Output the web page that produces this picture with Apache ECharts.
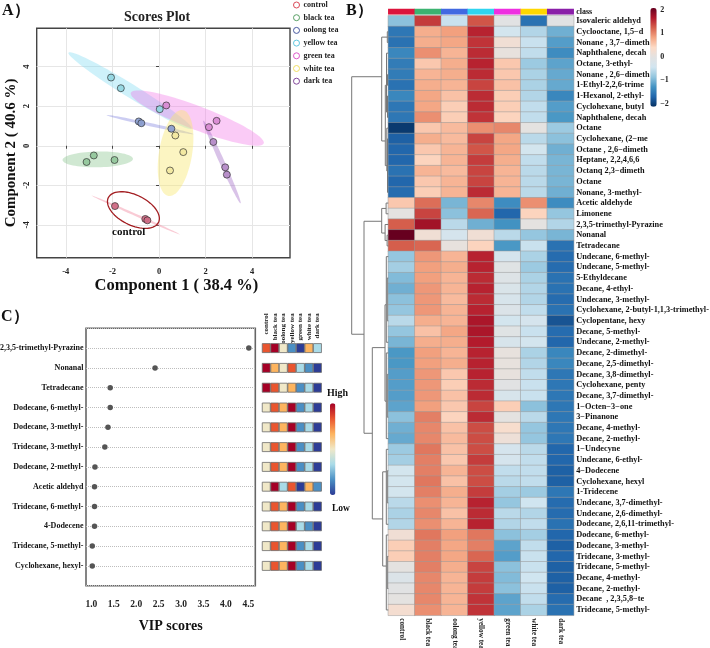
<!DOCTYPE html>
<html>
<head>
<meta charset="utf-8">
<title>Scores plot, heatmap and VIP scores</title>
<style>html,body{margin:0;padding:0;background:#fff}#chart{width:710px;height:648px}</style>
<script src="https://cdn.jsdelivr.net/npm/echarts@6/dist/echarts.min.js"></script>
</head>
<body>
<div id="chart"></div>
<script>
var serif = '"Liberation Serif", serif';

// groups, in legend order
var groups = ['control', 'black tea', 'oolong tea', 'yellow tea', 'green tea', 'white tea', 'dark tea'];
var groupLine = ['#d8404f', '#4f9a5c', '#3d4f9a', '#58c4de', '#dc4fc8', '#f0dc5a', '#7c3f96'];
var groupFill = ['#cf6a84', '#93c79c', '#8c9fd0', '#93d6e2', '#d88ad2', '#f2e8a0', '#b68cc8'];
var classColors = ['#dc143c', '#3cb371', '#4169e1', '#2fd4f0', '#ee2fe0', '#ffd700', '#8a1fa8'];

// panel A: component 1 / component 2 scores
var scores = [
  [[-1.89, -3.05], [-0.59, -3.70], [-0.50, -3.77]],
  [[-2.80, -0.49], [-3.11, -0.82], [-1.91, -0.72]],
  [[-0.87, 1.23], [-0.76, 1.14], [0.53, 0.86]],
  [[-2.06, 3.45], [-1.64, 2.91], [0.03, 1.85]],
  [[0.31, 2.04], [2.47, 1.26], [2.14, 0.94]],
  [[0.70, 0.52], [1.04, -0.32], [0.47, -1.25]],
  [[2.33, 0.19], [2.84, -1.09], [2.91, -1.46]]
];
// confidence ellipses: centre x, y, semi-major vector, semi-minor vector (data units)
var ellipses = [
  [-1.00, -3.50, 1.89, -0.98, 0.02, 0.054],
  [-2.63, -0.69, 1.51, 0.03, 0, 0.40],
  [-0.39, 1.07, 1.86, -0.48, 0.015, 0.08],
  [-1.24, 2.79, 2.64, -1.92, 0.15, 0.29],
  [1.64, 1.40, 2.85, -1.28, 0.18, 0.56],
  [0.71, -0.37, 0.31, 2.17, 0.70, -0.14],
  [2.70, -0.82, 0.80, -2.09, 0.10, 0.055]
];
var ellipseFill = ['rgba(240,130,155,.42)', 'rgba(120,190,125,.35)', 'rgba(95,100,215,.32)', 'rgba(120,215,240,.36)',
  'rgba(240,110,230,.36)', 'rgba(248,232,110,.42)', 'rgba(150,90,190,.36)'];
var controlRing = [[-1.10, -3.25, 1.07, -0.64, 0.31, 0.67]];
var axisTicksA = [-4, -2, 0, 2, 4];

// panel B: heatmap
var heatSamples = ['control', 'black tea', 'oolong tea', 'yellow tea', 'green tea', 'white tea', 'dark tea'];
var heatCompounds = ['Isovaleric aldehyd', 'Cyclooctane, 1,5−d', 'Nonane , 3,7−dimeth', 'Naphthalene, decah', 'Octane, 3-ethyl-',
  'Nonane , 2,6−dimeth', '1-Ethyl-2,2,6-trime', '1-Hexanol, 2-ethyl-', 'Cyclohexane, butyl', 'Naphthalene, decah',
  'Octane', 'Cyclohexane, (2−me', 'Octane , 2,6−dimeth', 'Heptane, 2,2,4,6,6', 'Octanq 2,3−dimeth', 'Octane',
  'Nonane, 3-methyl-', 'Acetic aldehyde', 'Limonene', '2,3,5-trimethyl-Pyrazine', 'Nonanal', 'Tetradecane',
  'Undecane, 6-methyl-', 'Undecane, 5-methyl-', '5-Ethyldecane', 'Decane, 4-ethyl-', 'Undecane, 3-methyl-',
  'Cyclohexane, 2-butyl-1,1,3-trimethyl-', 'Cyclopentane, hexy', 'Decane, 5-methyl-', 'Undecane, 2-methyl-',
  'Decane, 2-dimethyl-', 'Decane, 2,5-dimethyl-', 'Decane, 3,8-dimethyl-', 'Cyclohexane, penty', 'Decane, 3,7-dimethyl-',
  '1−Octen−3−one', '3−Pinanone', 'Decane, 4-methyl-', 'Decane, 2-methyl-', '1−Undecyne', 'Undecane, 6-ethyl-',
  '4−Dodecene', 'Cyclohexane, hexyl', '1-Tridecene', 'Undecane, 3,7-dimethyl-', 'Undecane, 2,6-dimethyl-',
  'Dodecane, 2,6,11-trimethyl-', 'Dodecane, 6-methyl-', 'Dodecane, 3-methyl-', 'Tridecane, 3-methyl-', 'Tridecane, 5-methyl-',
  'Decane, 4-methyl-', 'Decane, 2-methyl-', 'Decane  , 2,3,5,8−te', 'Tridecane, 5-methyl-'];
var heatValues = [
  [-0.9, 1.45, -0.5, 1.3, -0.05, -1.6, -0.05],
  [-1.55, 0.75, 0.85, 1.6, -0.4, -0.65, -1.05],
  [-1.6, 0.75, 0.8, 1.5, 0.2, -0.5, -1.2],
  [-1.4, 0.95, 0.7, 1.55, 0.05, -0.55, -1.35],
  [-1.5, 0.55, 0.75, 1.6, 0.55, -0.8, -1.15],
  [-1.5, 0.7, 0.75, 1.55, 0.55, -0.7, -1.1],
  [-1.6, 0.75, 0.7, 1.4, 0.6, -0.7, -1.1],
  [-1.4, 0.8, 0.6, 1.55, 0.5, -0.65, -1.4],
  [-1.55, 0.8, 0.5, 1.55, 0.5, -0.55, -1.2],
  [-1.55, 0.95, 0.5, 1.5, 0.45, -0.55, -1.25],
  [-2.05, 0.55, 0.65, 0.95, 1.0, 0.0, -0.8],
  [-1.75, 0.75, 0.65, 1.4, 0.8, -0.6, -0.9],
  [-1.7, 0.55, 0.7, 1.3, 0.8, -0.4, -1.05],
  [-1.7, 0.45, 0.7, 1.45, 0.75, -0.55, -1.0],
  [-1.6, 0.7, 0.65, 1.4, 0.7, -0.6, -1.0],
  [-1.7, 0.55, 0.7, 1.4, 0.7, -0.6, -1.0],
  [-1.65, 0.5, 0.7, 1.55, 0.7, -0.6, -1.05],
  [0.55, 1.15, -1.0, 1.0, -1.35, 0.95, -1.35],
  [0.0, 1.4, -0.9, 1.2, -1.7, 0.45, -0.85],
  [1.25, 1.75, -0.6, -1.05, -1.3, 0.0, -0.65],
  [2.08, 0.2, -0.35, 0.2, -0.6, -0.85, -1.0],
  [1.25, 1.2, 0.05, 0.45, -1.25, -0.5, -1.6],
  [-0.85, 0.9, 0.7, 1.6, -0.35, -0.7, -1.65],
  [-0.75, 0.85, 0.75, 1.6, -0.1, -0.8, -1.65],
  [-0.95, 0.85, 0.7, 1.55, -0.15, -0.7, -1.6],
  [-1.05, 0.9, 0.7, 1.6, -0.25, -0.65, -1.6],
  [-0.9, 0.9, 0.65, 1.55, -0.3, -0.65, -1.65],
  [-0.85, 0.9, 0.7, 1.6, -0.2, -0.55, -1.6],
  [-0.6, 0.75, 0.7, 1.7, -0.4, -0.35, -1.85],
  [-0.85, 0.6, 0.8, 1.7, -0.1, -0.5, -1.65],
  [-1.0, 0.75, 0.75, 1.65, -0.3, -0.4, -1.7],
  [-1.25, 0.85, 0.7, 1.6, 0.05, -0.7, -1.4],
  [-1.25, 0.85, 0.75, 1.6, 0.05, -0.65, -1.4],
  [-1.2, 0.9, 0.55, 1.6, 0.05, -0.55, -1.55],
  [-1.2, 0.9, 0.5, 1.55, -0.05, -0.5, -1.55],
  [-1.2, 0.9, 0.6, 1.55, -0.3, -0.5, -1.55],
  [-1.15, 0.85, 0.55, 1.4, 0.5, -0.9, -1.55],
  [-0.9, 1.05, 0.45, 1.55, 0.0, -0.6, -1.55],
  [-1.05, 1.0, 0.6, 1.35, 0.3, -0.85, -1.55],
  [-1.1, 1.0, 0.65, 1.35, 0.15, -0.85, -1.55],
  [-0.8, 1.1, 0.6, 1.35, -0.35, -0.6, -1.7],
  [-0.75, 1.05, 0.55, 1.45, -0.35, -0.55, -1.7],
  [-0.4, 1.05, 0.7, 1.35, -0.55, -0.55, -1.75],
  [-0.4, 1.1, 0.6, 1.35, -0.6, -0.55, -1.75],
  [-0.4, 1.05, 0.75, 1.45, -0.75, -0.8, -1.55],
  [-0.6, 0.95, 0.7, 1.6, -0.85, -0.45, -1.65],
  [-0.7, 1.0, 0.6, 1.55, -0.6, -0.65, -1.65],
  [-0.65, 0.95, 0.7, 1.6, -0.65, -0.55, -1.6],
  [0.2, 1.1, 0.85, 1.1, -0.9, -0.75, -1.7],
  [0.5, 1.05, 0.8, 1.05, -1.15, -0.55, -1.75],
  [0.5, 1.05, 0.8, 1.2, -1.2, -0.5, -1.7],
  [0.0, 1.05, 0.75, 1.4, -0.9, -0.5, -1.75],
  [-0.2, 1.0, 0.7, 1.45, -0.95, -0.45, -1.75],
  [-0.05, 1.0, 0.7, 1.45, -0.9, -0.5, -1.75],
  [0.0, 1.0, 0.7, 1.5, -1.15, -0.55, -1.65],
  [0.25, 0.95, 0.7, 1.5, -1.15, -0.7, -1.6]
];
var heatColors = ['#053061', '#2166ac', '#4393c3', '#92c5de', '#d1e5f0', '#e2e2e2', '#fddbc7', '#f4a582', '#d6604d', '#b2182b', '#67001f'];
// dendrogram brackets: top row, bottom row, height, height of top child, height of bottom child
var dendroBrackets = [
  [5.7, 29.75, 36.6, 6.6, 24.3],
  [2.0, 11.7, 6.6, 1.0, 3.0],
  [1.5, 2.5, 1.0, 0, 0],
  [6.5, 14, 3.0, 1.8, 1.5],
  [3.5, 9, 1.8, 0, 0.8],
  [5.5, 6.5, 0.8, 0, 0],
  [7.5, 9.5, 0.8, 0, 0],
  [10.5, 14.5, 1.5, 0, 0.8],
  [11.5, 16.5, 0.8, 0, 0],
  [19.2, 39, 24.3, 6.6, 16],
  [18.0, 20.3, 6.6, 2.2, 3.2],
  [17.5, 18.5, 2.2, 0, 0],
  [19.5, 21, 3.2, 0, 1.2],
  [20.5, 21.5, 1.2, 0, 0],
  [31, 47, 16, 3.3, 5.6],
  [27, 36, 3.3, 2, 2],
  [22.5, 30.5, 2, 0, 0],
  [24.5, 28.5, 1, 0, 0],
  [31.5, 39.5, 2, 0, 0],
  [33.5, 37.5, 1, 0, 0],
  [42.6, 51.4, 5.6, 2, 2],
  [40.5, 47.5, 2, 0, 0],
  [42.5, 45.5, 1, 0, 0],
  [48.5, 55.5, 2, 0, 0],
  [50.5, 53.5, 1, 0, 0]
];

// panel C: VIP scores and relative abundance ranks (0 low .. 6 high)
var vipCompounds = ['2,3,5-trimethyl-Pyrazine', 'Nonanal', 'Tetradecane', 'Dodecane, 6-methyl-', 'Dodecane, 3-methyl-', 'Tridecane, 3-methyl-',
  'Dodecane, 2-methyl-', 'Acetic aldehyd', 'Tridecane, 6-methyl-', '4-Dodecene', 'Tridecane, 5-methyl-', 'Cyclohexane, hexyl-'];
var vipScores = [4.51, 2.42, 1.42, 1.42, 1.37, 1.30, 1.08, 1.07, 1.07, 1.07, 1.02, 1.02];
var vipRanks = [
  [5, 6, 3, 1, 0, 4, 2],
  [6, 4, 3, 5, 2, 1, 0],
  [6, 5, 3, 4, 1, 2, 0],
  [3, 5, 4, 6, 1, 2, 0],
  [3, 5, 4, 6, 1, 2, 0],
  [3, 5, 4, 6, 1, 2, 0],
  [3, 5, 4, 6, 1, 2, 0],
  [3, 6, 2, 5, 0, 4, 1],
  [3, 5, 4, 6, 1, 2, 0],
  [3, 5, 4, 6, 2, 1, 0],
  [3, 5, 4, 6, 1, 2, 0],
  [3, 5, 4, 6, 1, 2, 0]
];
var vipColors = ['#2c3c96', '#4b8fc4', '#a9dbe8', '#f0e8c8', '#fdb45f', '#e9552f', '#a50026'];
var vipTicks = [1, 1.5, 2, 2.5, 3, 3.5, 4, 4.5];

var vipRows = [''].concat(vipCompounds, ['']);

var boldText = function (size) {
  return { fontFamily: serif, fontWeight: 'bold', fontSize: size, color: '#111' };
};

function renderEllipse(params, api) {
  var pts = [];
  for (var i = 0; i < 72; i++) {
    var t = i / 72 * Math.PI * 2;
    var c = Math.cos(t), s = Math.sin(t);
    pts.push(api.coord([api.value(0) + api.value(2) * c + api.value(4) * s, api.value(1) + api.value(3) * c + api.value(5) * s]));
  }
  return { type: 'polygon', shape: { points: pts }, style: { fill: ellipseFill[params.dataIndex] } };
}
function renderRing(params, api) {
  var el = renderEllipse(params, api);
  el.style = { fill: 'none', stroke: '#a31e22', lineWidth: 1.3 };
  return el;
}
function renderBracket(params, api) {
  var top = api.value(0), bottom = api.value(1), h = api.value(2);
  return {
    type: 'polyline',
    shape: { points: [api.coord([api.value(3), top]), api.coord([h, top]), api.coord([h, bottom]), api.coord([api.value(4), bottom])] },
    style: { fill: 'none', stroke: '#777', lineWidth: 1 }
  };
}

var heatData = [];
heatValues.forEach(function (row, r) {
  row.forEach(function (v, c) { heatData.push([c, r, v]); });
});
var rankData = [];
vipRanks.forEach(function (row, r) {
  row.forEach(function (v, c) { rankData.push([c, r + 1, v]); });
});

var series = [];
// 0: ellipses, 1: ring
series.push({ type: 'custom', name: 'ellipses', xAxisIndex: 0, yAxisIndex: 0, renderItem: renderEllipse, data: ellipses, encode: { x: 0, y: 1 }, silent: true, z: 1 });
series.push({ type: 'custom', name: 'control ring', xAxisIndex: 0, yAxisIndex: 0, renderItem: renderRing, data: controlRing, encode: { x: 0, y: 1 }, silent: true, z: 4 });
// 2: heatmap, 3: class bar
series.push({ type: 'heatmap', xAxisIndex: 1, yAxisIndex: 1, data: heatData, itemStyle: { borderColor: '#9a9a9a', borderWidth: 0.5 }, silent: true });
series.push({ type: 'heatmap', xAxisIndex: 2, yAxisIndex: 2, data: classColors.map(function (c, i) { return [i, 0, i]; }), silent: true });
// 4: dendrogram
series.push({ type: 'custom', name: 'dendrogram', xAxisIndex: 3, yAxisIndex: 3, renderItem: renderBracket, data: dendroBrackets, encode: { x: 2, y: [0, 1] }, silent: true });
// 5: VIP dots, 6: rank cells
series.push({
  type: 'scatter', xAxisIndex: 5, yAxisIndex: 5, symbolSize: 5.5, itemStyle: { color: '#555', opacity: 1 },
  data: vipScores.map(function (v, i) { return [v, i + 1]; }), silent: true
});
series.push({
  type: 'scatter', xAxisIndex: 6, yAxisIndex: 6, symbol: 'rect', symbolSize: [8, 9], data: rankData, silent: true,
  itemStyle: { borderColor: '#6a6a6a', borderWidth: 0.8, opacity: 1 }
});
// score points per group
groups.forEach(function (g, i) {
  series.push({
    type: 'scatter', name: g, xAxisIndex: 0, yAxisIndex: 0, data: scores[i], symbolSize: 7, z: 3, silent: true,
    itemStyle: { color: groupFill[i], borderColor: '#2b2b2b', borderWidth: 0.7, opacity: 0.95 }
  });
});

var option = {
  animation: false,
  backgroundColor: '#fff',
  legend: {
    orient: 'vertical', left: 293, top: 1, padding: 0, itemWidth: 6, itemHeight: 6, itemGap: 4.7, selectedMode: false,
    textStyle: { fontFamily: serif, fontSize: 8, fontWeight: 'bold', color: '#222', padding: [0, 0, 0, -1] },
    data: groups.map(function (g, i) {
      return { name: g, icon: 'circle', itemStyle: { color: 'transparent', borderColor: groupLine[i], borderWidth: 1 } };
    })
  },
  grid: [
    { outerBoundsMode: 'none', left: 36.7, top: 28.3, width: 253.3, height: 229.4, show: true, borderColor: '#444', borderWidth: 1.4, backgroundColor: '#fff' },
    { outerBoundsMode: 'none', left: 388.3, top: 15.7, width: 185.4, height: 599.6 },
    { outerBoundsMode: 'none', left: 388.3, top: 9, width: 185.4, height: 5.3 },
    { outerBoundsMode: 'none', left: 340, top: 15.7, width: 48.3, height: 599.6 },
    { outerBoundsMode: 'none', left: 650.3, top: 10, width: 6.4, height: 93.7 },
    { outerBoundsMode: 'none', left: 86, top: 328.3, width: 169.3, height: 257.4, show: true, borderColor: '#666', borderWidth: 1.6 },
    { outerBoundsMode: 'none', left: 262, top: 328.3, width: 59.7, height: 257.4 }
  ],
  xAxis: [
    {
      gridIndex: 0, type: 'value', min: -5.25, max: 5.62, name: 'Component 1 ( 38.4 %)', nameLocation: 'center', nameGap: 19,
      nameTextStyle: Object.assign(boldText(16.5), { padding: [0, 0, 0, 26] }),
      axisLine: { show: false }, axisTick: { length: 3, lineStyle: { color: '#444' }, customValues: axisTicksA },
      axisLabel: { customValues: axisTicksA, margin: 10, fontFamily: serif, fontWeight: 'bold', fontSize: 8.5, color: '#222' },
      splitLine: { show: true, lineStyle: { color: '#e6e6e6', width: 1 } }
    },
    {
      gridIndex: 1, type: 'category', data: heatSamples, position: 'bottom',
      axisLine: { show: false }, axisTick: { show: false },
      axisLabel: { rotate: -90, align: 'left', verticalAlign: 'middle', margin: 3, fontFamily: serif, fontWeight: 'bold', fontSize: 7.2, color: '#222', interval: 0 }
    },
    { gridIndex: 2, type: 'category', data: heatSamples, show: false },
    { gridIndex: 3, type: 'value', min: 0, max: 48.3, inverse: true, show: false },
    { gridIndex: 4, type: 'value', show: false },
    {
      gridIndex: 5, type: 'value', min: 0.88, max: 4.655, name: 'VIP scores', nameLocation: 'center', nameGap: 34,
      nameTextStyle: boldText(14),
      axisLine: { show: false }, axisTick: { length: 3, lineStyle: { color: '#555' }, customValues: vipTicks },
      axisLabel: { customValues: vipTicks, margin: 14, fontFamily: serif, fontWeight: 'bold', fontSize: 9.5, color: '#222', formatter: function (v) { return v.toFixed(1); } },
      splitLine: { show: false }
    },
    {
      gridIndex: 6, type: 'category', data: groups, position: 'top',
      axisLine: { show: false }, axisTick: { show: false },
      axisLabel: { rotate: -90, align: 'right', verticalAlign: 'middle', margin: 15, fontFamily: serif, fontWeight: 'bold', fontSize: 7, color: '#222', interval: 0 }
    }
  ],
  yAxis: [
    {
      gridIndex: 0, type: 'value', min: -5.66, max: 5.94, name: 'Component 2 ( 40.6 %)', nameLocation: 'center', nameGap: 18,
      nameTextStyle: Object.assign(boldText(15), { padding: [0, 20, 0, 0] }),
      axisLine: { show: false }, axisTick: { length: 3, lineStyle: { color: '#444' }, customValues: axisTicksA },
      axisLabel: { customValues: axisTicksA, margin: 5, rotate: 90, fontFamily: serif, fontWeight: 'bold', fontSize: 8.5, color: '#222' },
      splitLine: { show: true, lineStyle: { color: '#e6e6e6', width: 1 } }
    },
    {
      gridIndex: 1, type: 'category', data: heatCompounds, inverse: true, position: 'right',
      axisLine: { show: false }, axisTick: { show: false },
      axisLabel: { margin: 2.5, fontFamily: serif, fontWeight: 'bold', fontSize: 8.3, color: '#111', interval: 0 }
    },
    {
      gridIndex: 2, type: 'category', data: ['class'], position: 'right',
      axisLine: { show: false }, axisTick: { show: false },
      axisLabel: { margin: 2.5, fontFamily: serif, fontWeight: 'bold', fontSize: 8, color: '#111' }
    },
    { gridIndex: 3, type: 'value', min: 0, max: 56, inverse: true, show: false },
    {
      gridIndex: 4, type: 'value', min: -2, max: 2, interval: 1, position: 'right',
      axisLine: { show: false }, axisTick: { show: false }, splitLine: { show: false },
      axisLabel: { margin: 3.5, fontFamily: serif, fontWeight: 'bold', fontSize: 8, color: '#222', formatter: function (v) { return String(v).replace('-', '−'); } }
    },
    {
      gridIndex: 5, type: 'category', data: vipRows, inverse: true, boundaryGap: false,
      axisLine: { show: false }, axisTick: { show: false },
      axisLabel: { margin: 2.5, fontFamily: serif, fontWeight: 'bold', fontSize: 8, color: '#111', interval: 0 },
      splitLine: { show: true, interval: 0, lineStyle: { color: '#bdbdbd', type: 'dotted', width: 1 } }
    },
    { gridIndex: 6, type: 'category', data: vipRows, inverse: true, boundaryGap: false, show: false }
  ],
  visualMap: [
    {
      type: 'continuous', seriesIndex: 2, dimension: 2, min: -2.13, max: 2.08, left: 650.3, top: 8, padding: 0,
      itemWidth: 6.4, itemHeight: 98.7, inRange: { color: heatColors }, text: null, showLabel: false, calculable: false, hoverLink: false,
      textStyle: { fontSize: 0 }
    },
    {
      type: 'piecewise', seriesIndex: 3, dimension: 2, show: false,
      pieces: classColors.map(function (c, i) { return { value: i, color: c }; })
    },
    {
      type: 'continuous', seriesIndex: 6, dimension: 2, min: 0, max: 6, left: 330, top: 403.3, padding: 0,
      itemWidth: 5.4, itemHeight: 91.7, inRange: { color: vipColors }, calculable: false, hoverLink: false,
      textStyle: { fontSize: 0 }
    }
  ],
  graphic: [
    { type: 'text', left: 2, top: 3, style: { text: 'A）', font: 'bold 16px ' + serif, fill: '#111' } },
    { type: 'text', left: 346, top: 3, style: { text: 'B）', font: 'bold 16px ' + serif, fill: '#111' } },
    { type: 'text', left: 1, top: 309, style: { text: 'C）', font: 'bold 16px ' + serif, fill: '#111' } },
    { type: 'text', left: 124, top: 10, style: { text: 'Scores Plot', font: 'bold 14px ' + serif, fill: '#222' } },
    { type: 'text', left: 112, top: 227, z: 10, style: { text: 'control', font: 'bold 11px ' + serif, fill: '#111' } },
    { type: 'text', left: 327, top: 388, style: { text: 'High', font: 'bold 10px ' + serif, fill: '#111' } },
    { type: 'text', left: 332, top: 504, style: { text: 'Low', font: 'bold 9.5px ' + serif, fill: '#111' } }
  ],
  series: series
};

var chart = echarts.init(document.getElementById('chart'), null, { renderer: 'canvas' });
chart.setOption(option);
</script>
</body>
</html>
